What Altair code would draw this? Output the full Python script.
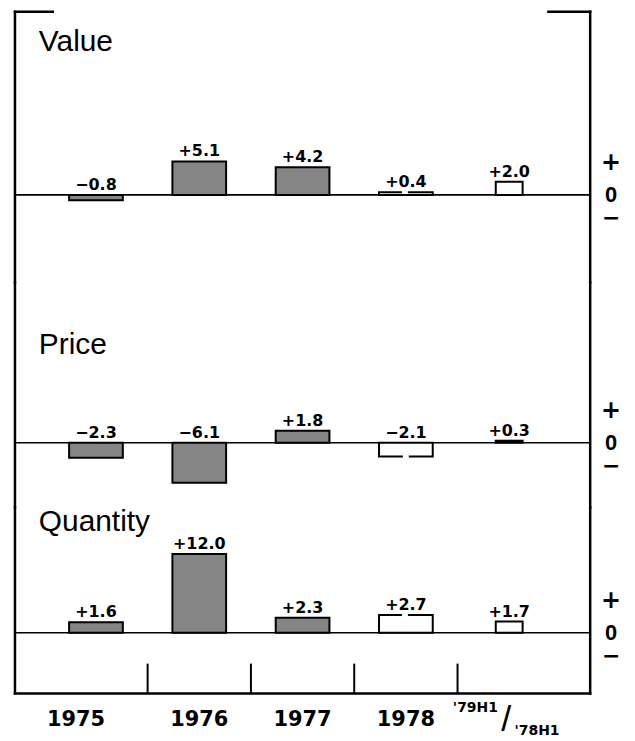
import altair as alt
import pandas as pd

# ---------------- data ----------------
categories = ["1975", "1976", "1977", "1978", "79H1"]
value_changes = [-0.8, 5.1, 4.2, 0.4, 2.0]
price_changes = [-2.3, -6.1, 1.8, -2.1, 0.3]
quantity_changes = [1.6, 12.0, 2.3, 2.7, 1.7]
bar_styles = ["filled", "filled", "filled", "open", "open"]
bar_widths = ["full", "full", "full", "full", "half"]
panel_titles = ["Value", "Price", "Quantity"]
year_labels = ["1975", "1976", "1977", "1978"]
half_labels = ["'79H1", "/", "'78H1"]
sign_labels = ["+", "0", "\u2212"]

# ---------------- layout / style ----------------
K = 6.6          # pixels per percentage point
W = 578          # panel width
FULL_BAND = 0.52
HALF_BAND = 0.26
NUM_FONT = "DejaVu Sans"
TITLE_FONT = "Liberation Sans"
BAR_FILL = "#858585"

x_scale = alt.Scale(domain=categories, paddingInner=0, paddingOuter=0.284)
one = pd.DataFrame({"a": [0]})


def fmt(v):
    return ("+" if v > 0 else "\u2212") + f"{abs(v):.1f}"


def frame_rule():
    return alt.Chart(one).mark_rule(color="black", strokeWidth=2.5, strokeCap="square")


def panel(title, vals, H, base, title_y, first=False, last=False):
    df = pd.DataFrame({
        "cat": categories,
        "v": vals,
        "label": [fmt(v) for v in vals],
        "style": bar_styles,
        "bw": bar_widths,
    })
    y_scale = alt.Scale(domain=[-(H - base) / K, base / K], nice=False, zero=False)
    X = alt.X("cat:N", scale=x_scale, axis=None, sort=categories)
    Y = alt.Y("v:Q", scale=y_scale, axis=None)
    c = alt.Chart(df)
    layers = []

    # zero line
    layers.append(alt.Chart(one).mark_rule(color="black", strokeWidth=1.6).encode(
        x=alt.value(0), x2=alt.value(W), y=alt.Y(datum=0, scale=y_scale, axis=None)))

    # filled bars
    layers.append(c.transform_filter("datum.style == 'filled'").mark_bar(
        width={"band": FULL_BAND}, fill=BAR_FILL, stroke="black", strokeWidth=2
    ).encode(x=X, y=Y, y2=alt.Y2(datum=0)))

    # open full-width bars (1978), outline broken in the middle
    for cat, v, st, bw in zip(categories, vals, bar_styles, bar_widths):
        if st == "open" and bw == "full":
            bw_px = 54
            if v >= 0:
                dash = [23, 6, 3000]
            else:
                dash = [bw_px + abs(v) * K + 24, 6, 3000]
            layers.append(c.transform_filter(f"datum.cat == '{cat}'").mark_bar(
                width={"band": FULL_BAND}, fill="white", stroke="black",
                strokeWidth=2, strokeDash=dash
            ).encode(x=X, y=Y, y2=alt.Y2(datum=0)))

    # open half-width bar ('79H1/'78H1)
    layers.append(c.transform_filter("datum.style == 'open' && datum.bw == 'half'").mark_bar(
        width={"band": HALF_BAND}, fill="white", stroke="black", strokeWidth=2
    ).encode(x=X, y=Y, y2=alt.Y2(datum=0)))

    # value labels
    layers.append(c.transform_calculate(ly="max(datum.v, 0)").mark_text(
        font=NUM_FONT, fontWeight="bold", fontSize=16, dy=-5, baseline="alphabetic"
    ).encode(x=X, y=alt.Y("ly:Q", scale=y_scale, axis=None), text="label:N"))

    # frame sides
    layers.append(frame_rule().encode(x=alt.value(0), y=alt.value(0), y2=alt.value(H)))
    layers.append(frame_rule().encode(x=alt.value(W), y=alt.value(0), y2=alt.value(H)))

    # panel title
    layers.append(alt.Chart(one).mark_text(
        font=TITLE_FONT, fontSize=30, align="left", baseline="alphabetic", text=title
    ).encode(x=alt.value(24), y=alt.value(title_y)))

    # + 0 - markers
    for s, dy, font, size in zip(sign_labels, [-32, 0, 23],
                                 [NUM_FONT, TITLE_FONT, NUM_FONT], [24, 22, 22]):
        layers.append(alt.Chart(one).mark_text(
            font=font, fontWeight="bold", fontSize=size, baseline="middle",
            align="center", dy=dy, text=s
        ).encode(x=alt.value(W + 21), y=alt.Y(datum=0, scale=y_scale, axis=None)))

    if first:
        layers.append(frame_rule().encode(x=alt.value(0), x2=alt.value(38), y=alt.value(0)))
        layers.append(frame_rule().encode(x=alt.value(W - 42), x2=alt.value(W), y=alt.value(0)))

    if last:
        # bottom border
        layers.append(frame_rule().encode(x=alt.value(0), x2=alt.value(W), y=alt.value(H)))
        # separators between categories
        tick_df = pd.DataFrame({"cat": categories[1:]})
        layers.append(alt.Chart(tick_df).mark_rule(color="black", strokeWidth=2).encode(
            x=alt.X("cat:N", scale=x_scale, axis=None, bandPosition=0),
            y=alt.value(H - 30), y2=alt.value(H)))
        # year labels
        lab_df = pd.DataFrame({"cat": categories[:4], "text": year_labels})
        for cond, dx in [("datum.cat == '1975'", -20), ("datum.cat != '1975'", 0)]:
            layers.append(alt.Chart(lab_df).transform_filter(cond).mark_text(
                font=NUM_FONT, fontWeight="bold", fontSize=21, baseline="middle", dx=dx
            ).encode(x=alt.X("cat:N", scale=x_scale, axis=None), y=alt.value(H + 27),
                     text="text:N"))
        # half-year label
        half_df = pd.DataFrame({"cat": [categories[4]] * 3, "text": half_labels})
        for txt, dx, dy, font, size, weight in [
            (half_labels[0], -34, 15, NUM_FONT, 14, "bold"),
            (half_labels[1], -3, 27, TITLE_FONT, 36, "normal"),
            (half_labels[2], 28, 38, NUM_FONT, 14, "bold"),
        ]:
            layers.append(alt.Chart(half_df).transform_filter(f'datum.text == "{txt}"').mark_text(
                font=font, fontSize=size, fontWeight=weight, baseline="middle", dx=dx
            ).encode(x=alt.X("cat:N", scale=x_scale, axis=None), y=alt.value(H + dy),
                     text="text:N"))

    return alt.layer(*layers).properties(width=W, height=H)


p1 = panel(panel_titles[0], value_changes, 272, 184, 39, first=True)
p2 = panel(panel_titles[1], price_changes, 226, 161, 72)
p3 = panel(panel_titles[2], quantity_changes, 187, 126, 24, last=True)

chart = alt.vconcat(p1, p2, p3, spacing=0, bounds="flush").resolve_scale(
    y="independent", x="independent"
).configure_view(stroke=None).properties(
    padding={"left": 5, "top": 0, "right": 5, "bottom": 5},
    background="white",
)

chart.save("out.html", embed_options={"renderer": "svg", "actions": False})
